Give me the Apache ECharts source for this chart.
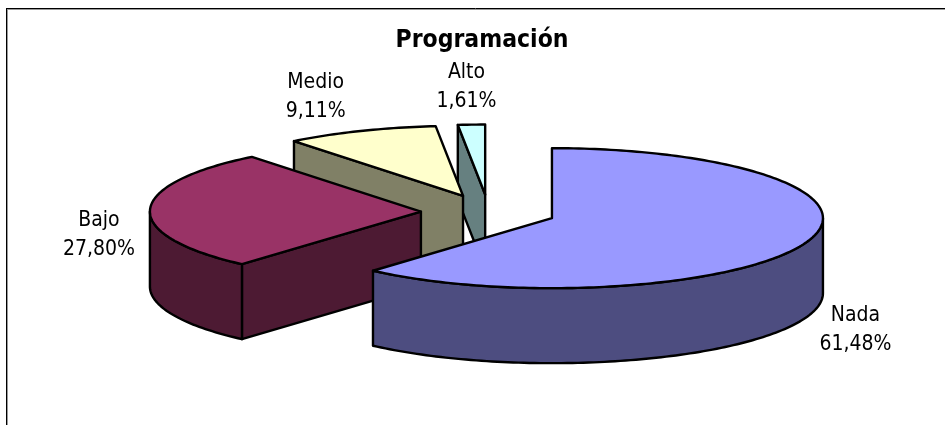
<!DOCTYPE html>
<html>
<head>
<meta charset="utf-8">
<style>html,body{margin:0;padding:0;background:#fff}#c{width:945px;height:425px}</style>
<script src="https://cdn.jsdelivr.net/npm/echarts@6/dist/echarts.min.js"></script>
</head>
<body>
<div id="c"></div>
<script>
// Data
const titleText = 'Programación';
const categories = ['Nada', 'Bajo', 'Medio', 'Alto'];
const values = [61.48, 27.80, 9.11, 1.61];
const displayLabels = ['61,48%', '27,80%', '9,11%', '1,61%'];
const topColors = ['#9999FF', '#993366', '#FFFFCC', '#CCFFFF'];
const sideColors = ['#4D4D80', '#4D1A33', '#808066', '#668080'];

// Projection of the tilted pie
const CX = 488.6, CY = 212, RX = 271, RY = 70, DEPTH = 75, EXPLODE = 67.7;
const FONT = '"DejaVu Sans Condensed", "DejaVu Sans", sans-serif';
// Label centre relative to the outer mid-point of each slice
const labelOffsets = [[50, 87], [-51, 25], [-45, -34], [-5, -38]];

const total = values.reduce((a, b) => a + b, 0);
const TAU = Math.PI * 2;
const starts = [];
values.reduce((acc, v, i) => { starts[i] = acc; return acc + v / total * TAU; }, 0);

function rim(ax, ay, a, dz) { return [ax + RX * Math.sin(a), ay - RY * Math.cos(a) + (dz || 0)]; }
function arc(ax, ay, a0, a1, dz) {
  const n = Math.max(2, Math.ceil(Math.abs(a1 - a0) / 0.02)), out = [];
  for (let k = 0; k <= n; k++) out.push(rim(ax, ay, a0 + (a1 - a0) * k / n, dz));
  return out;
}
const stroke = { stroke: '#000', lineWidth: 2.4, lineJoin: 'round' };

function renderSlice(params, api) {
  const i = params.dataIndex;
  const a0 = starts[i], a1 = a0 + api.value(1) / total * TAU, mid = (a0 + a1) / 2;
  const ax = CX + EXPLODE * Math.sin(mid), ay = CY - EXPLODE * (RY / RX) * Math.cos(mid);
  const z = (categories.length - i) * 10;
  const kids = [];
  const poly = (pts, fill, dz) => kids.push({
    type: 'polygon', z2: z + dz, shape: { points: pts },
    style: Object.assign({ fill }, stroke)
  });
  const radial = a => {
    const p = rim(ax, ay, a);
    poly([[ax, ay], p, [p[0], p[1] + DEPTH], [ax, ay + DEPTH]], sideColors[i], 1);
  };
  if (Math.sin(a0) < -1e-6) radial(a0);
  if (Math.sin(a1) > 1e-6) radial(a1);
  const w0 = Math.max(a0, Math.PI / 2), w1 = Math.min(a1, Math.PI * 1.5);
  if (w1 > w0) {
    poly(arc(ax, ay, w0, w1, 0).concat(arc(ax, ay, w1, w0, DEPTH)), sideColors[i], 2);
  }
  poly([[ax, ay]].concat(arc(ax, ay, a0, a1, 0)), topColors[i], 3);

  const m = rim(ax, ay, mid);
  kids.push({
    type: 'text', z2: 100,
    style: {
      x: m[0] + labelOffsets[i][0], y: m[1] + labelOffsets[i][1],
      text: categories[i] + '\n' + displayLabels[i],
      align: 'center', verticalAlign: 'middle',
      font: '21px ' + FONT, lineHeight: 29, fill: '#000'
    }
  });
  return { type: 'group', children: kids };
}

const chart = echarts.init(document.getElementById('c'), null, { renderer: 'canvas' });
chart.setOption({
  animation: false,
  backgroundColor: '#fff',
  title: {
    text: titleText, left: 477, top: 23, textAlign: 'center',
    textStyle: { fontFamily: FONT, fontSize: 24.5, fontWeight: 'bold', color: '#000' }
  },
  graphic: [
    { type: 'line', z: -1, silent: true, shape: { x1: 7, y1: 9.5, x2: 945, y2: 9.5 }, style: { stroke: '#999', lineWidth: 1 } },
    { type: 'line', z: -1, silent: true, shape: { x1: 7.5, y1: 9, x2: 7.5, y2: 425 }, style: { stroke: '#999', lineWidth: 1 } },
    { type: 'line', z: -1, silent: true, shape: { x1: 6, y1: 8.5, x2: 945, y2: 8.5 }, style: { stroke: '#000', lineWidth: 1 } },
    { type: 'line', z: -1, silent: true, shape: { x1: 6.5, y1: 8, x2: 6.5, y2: 425 }, style: { stroke: '#000', lineWidth: 1 } }
  ],
  series: [{
    type: 'custom',
    coordinateSystem: 'none',
    silent: true,
    renderItem: renderSlice,
    data: values.map((v, i) => [i, v])
  }]
});
</script>
</body>
</html>
